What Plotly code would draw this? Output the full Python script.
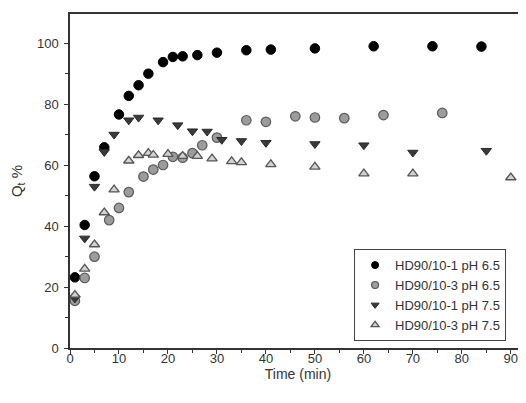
import plotly.graph_objects as go

# HD90/10-1 pH 6.5 (black circles)
t_a = [1, 3, 5, 7, 10, 12, 14, 16, 19, 21, 23, 26, 30, 36, 41, 50, 62, 74, 84]
q_a = [23.2, 40.4, 56.4, 65.9, 76.7, 82.8, 86.3, 90.1, 93.9, 95.6, 95.8, 96.2, 97.0, 97.8, 98.0, 98.4, 99.1, 99.1, 99.0]

# HD90/10-3 pH 6.5 (grey circles)
t_b = [1, 3, 5, 8, 10, 12, 15, 17, 19, 21, 23, 25, 27, 30, 36, 40, 46, 50, 56, 64, 76]
q_b = [15.5, 23.0, 30.0, 42.0, 46.0, 51.2, 56.3, 58.6, 60.1, 62.8, 62.5, 64.0, 66.6, 69.1, 74.8, 74.3, 76.1, 75.7, 75.5, 76.5, 77.2]

# HD90/10-1 pH 7.5 (dark triangles down)
t_c = [1, 3, 5, 7, 9, 12, 14, 18, 22, 25, 28, 31, 35, 40, 50, 60, 70, 85]
q_c = [16.3, 36.0, 53.0, 64.4, 70.1, 74.8, 75.7, 74.8, 73.2, 71.2, 71.1, 68.4, 68.0, 67.4, 67.0, 66.6, 64.2, 64.8]

# HD90/10-3 pH 7.5 (light triangles up)
t_d = [1, 3, 5, 7, 9, 12, 14, 16, 17, 20, 23, 26, 29, 33, 35, 41, 50, 60, 70, 90]
q_d = [17.4, 26.0, 34.0, 44.5, 52.0, 61.5, 63.3, 64.0, 63.4, 63.7, 63.0, 63.0, 62.2, 61.3, 61.0, 60.3, 59.5, 57.3, 57.3, 56.0]

series_names = ["HD90/10-1 pH 6.5", "HD90/10-3 pH 6.5", "HD90/10-1 pH 7.5", "HD90/10-3 pH 7.5"]

x_ticks = [0, 10, 20, 30, 40, 50, 60, 70, 80, 90]
y_ticks = [0, 20, 40, 60, 80, 100]

FONT = "Liberation Sans, Arial, sans-serif"
TXT = "#333333"

styles = [
    dict(symbol="circle", color="#000000", line=dict(color="#000000", width=1)),
    dict(symbol="circle", color="#9c9c9c", line=dict(color="#5a5a5a", width=1.2)),
    dict(symbol="triangle-down", color="#3a3a3a", line=dict(color="#2a2a2a", width=1)),
    dict(symbol="triangle-up", color="#d2d2d2", line=dict(color="#555555", width=1.3)),
]
sizes = [9.5, 9.5, 9, 9]
data = [(t_a, q_a), (t_b, q_b), (t_c, q_c), (t_d, q_d)]

fig = go.Figure()
for (xs, ys), st, sz, nm in zip(data, styles, sizes, series_names):
    fig.add_trace(go.Scatter(x=xs, y=ys, mode="markers", name=nm, showlegend=False,
                             marker=dict(size=sz, **st)))
# legend entries (smaller symbols, as in the reference legend)
for st, nm in zip(styles, series_names):
    fig.add_trace(go.Scatter(x=[None], y=[None], mode="markers", name=nm, showlegend=True,
                             marker=dict(size=7, **st)))

# page body has an 8px default margin, so the figure is sized/offset to compensate
fig.update_layout(
    width=518, height=395,
    margin=dict(l=62, r=0, t=6, b=55),
    paper_bgcolor="white", plot_bgcolor="white",
    font=dict(family=FONT, size=12, color=TXT),
    showlegend=True,
    legend=dict(x=0.623, y=0.296, xanchor="left", yanchor="top",
                bgcolor="white", bordercolor="#444444", borderwidth=1,
                font=dict(family=FONT, size=13, color=TXT),
                tracegroupgap=0),
)
fig.update_xaxes(
    range=[0, 93.1], tickvals=x_ticks, ticktext=[str(v) for v in x_ticks],
    showgrid=False, zeroline=False, automargin=False,
    showline=True, linecolor="#333333", linewidth=1.5, mirror=True,
    ticks="outside", ticklen=4, tickwidth=1, tickcolor="#333333",
    minor=dict(dtick=5, ticks="outside", ticklen=3, tickcolor="#333333", tickwidth=1),
    tickfont=dict(family=FONT, size=13, color=TXT), ticklabelstandoff=-6,
    title=dict(text="Time (min)", font=dict(family=FONT, size=14, color=TXT), standoff=2),
)
fig.update_yaxes(
    range=[0, 109.7], tickvals=y_ticks, ticktext=[str(v) for v in y_ticks],
    showgrid=False, zeroline=False, automargin=False,
    showline=True, linecolor="#333333", linewidth=1.5, mirror=False,
    ticks="outside", ticklen=4, tickwidth=1, tickcolor="#333333",
    minor=dict(dtick=10, ticks="outside", ticklen=3, tickcolor="#333333", tickwidth=1),
    tickfont=dict(family=FONT, size=13, color=TXT), ticklabelstandoff=3,
    title=dict(text="Q<sub>t</sub> %", font=dict(family=FONT, size=15, color=TXT), standoff=14),
)

fig.write_html("out.html")
